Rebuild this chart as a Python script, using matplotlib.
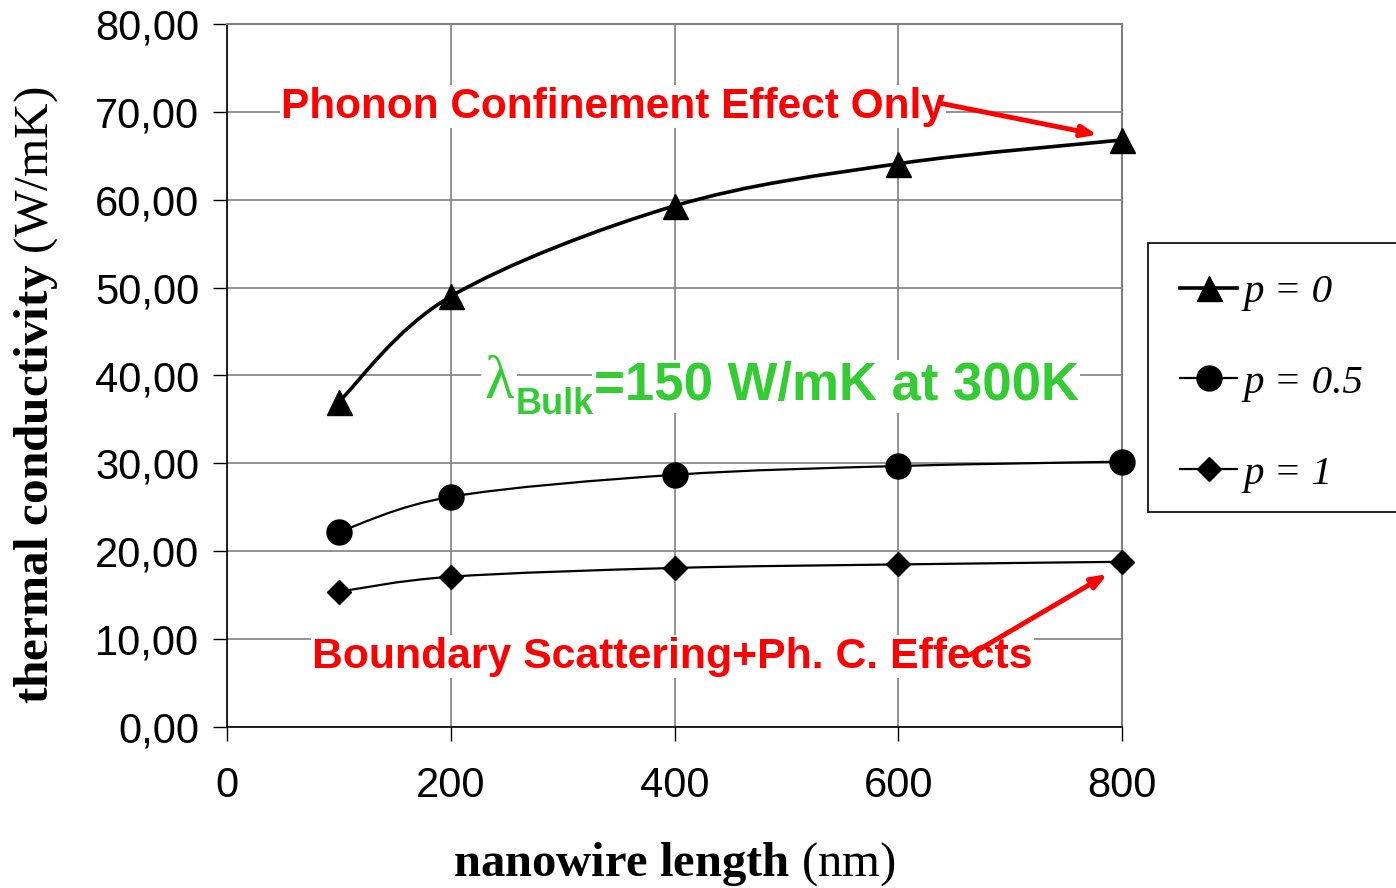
import matplotlib
matplotlib.use("Agg")
import matplotlib.pyplot as plt
from matplotlib.path import Path
from matplotlib.patches import PathPatch, Rectangle
from matplotlib.lines import Line2D
from matplotlib.ticker import FuncFormatter, MultipleLocator

# ---------------- data ----------------
lengths = [100, 200, 400, 600, 800]
k_p0 = [37.0, 49.0, 59.3, 64.1, 66.8]
k_p05 = [22.2, 26.2, 28.7, 29.7, 30.2]
k_p1 = [15.4, 17.1, 18.1, 18.5, 18.8]
series_labels = ["p = 0", "p = 0.5", "p = 1"]
xticks = [0, 200, 400, 600, 800]

plt.rcParams['mathtext.fontset'] = 'custom'
plt.rcParams['mathtext.rm'] = 'Liberation Serif'
plt.rcParams['mathtext.bf'] = 'Liberation Serif:bold'
plt.rcParams['mathtext.it'] = 'Liberation Serif:italic'

fig = plt.figure(figsize=(13.96, 8.88), dpi=100)
ax = fig.add_axes([227/1396, 1-727/888, 895/1396, 703/888])

ax.set_xlim(0, 800)
ax.set_ylim(0, 80)
ax.set_xticks(xticks)
ax.yaxis.set_major_locator(MultipleLocator(10))
ax.yaxis.set_major_formatter(FuncFormatter(lambda v, p: f"{v:.2f}".replace('.', ',')))
ax.xaxis.set_major_formatter(FuncFormatter(lambda v, p: f"{int(v)}"))

for lab in ax.get_xticklabels() + ax.get_yticklabels():
    lab.set_fontfamily('Liberation Sans')
    lab.set_fontsize(30)
ax.tick_params(axis='both', direction='out', length=10, width=1.0, colors='black')
ax.tick_params(axis='x', pad=18)
ax.tick_params(axis='y', pad=10)

ax.grid(True, color='#808080', linewidth=1.2, zorder=0)
ax.set_axisbelow(True)
for s in ['top', 'right']:
    ax.spines[s].set_color('#808080')
    ax.spines[s].set_linewidth(1.5)
for s in ['left', 'bottom']:
    ax.spines[s].set_color('black')
    ax.spines[s].set_linewidth(1.2)


def smooth_path(xs, ys):
    n = len(xs)
    verts = [(xs[0], ys[0])]
    codes = [Path.MOVETO]
    for i in range(n - 1):
        a = i - 1 if i > 0 else i
        d = i + 2 if i + 2 < n else i + 1
        c1 = (xs[i] + (xs[i + 1] - xs[a]) / 6, ys[i] + (ys[i + 1] - ys[a]) / 6)
        c2 = (xs[i + 1] - (xs[d] - xs[i]) / 6, ys[i + 1] - (ys[d] - ys[i]) / 6)
        verts += [c1, c2, (xs[i + 1], ys[i + 1])]
        codes += [Path.CURVE4] * 3
    return Path(verts, codes)


styles = [(k_p0, '^', 18, 2.6), (k_p05, 'o', 18, 1.6), (k_p1, 'D', 12.5, 1.6)]
handles = []
for (vals, mk, ms, lw), lab in zip(styles, series_labels):
    ax.add_patch(PathPatch(smooth_path(lengths, vals), facecolor='none',
                           edgecolor='black', linewidth=lw, zorder=3))
    ax.plot(lengths, vals, linestyle='none', marker=mk, markersize=ms,
            color='black', zorder=4, clip_on=False)
    handles.append(Line2D([], [], color='black', linewidth=lw, marker=mk, markersize=ms))

# axis labels
ax.set_xlabel(r"$\mathbf{nanowire\ length}$ (nm)", fontfamily='Liberation Serif', fontsize=35)
ax.xaxis.set_label_coords(0.5, -0.195)
ax.xaxis.label.set_va('center')
ax.set_ylabel(r"$\mathbf{thermal\ conductivity}$ (W/mK)", fontfamily='Liberation Serif', fontsize=35.5)
ax.yaxis.set_label_coords(-0.213, 0.472)
ax.yaxis.label.set_va('center')

red = '#ff0000'
green = '#33cc33'
wb = dict(facecolor='white', edgecolor='none', pad=1)

ax.text(345, 70.6, "Phonon Confinement Effect Only", color=red, fontfamily='Liberation Sans',
        fontweight='bold', fontsize=30.5, ha='center', va='center', bbox=wb, zorder=5)
ax.annotate("", xy=(778, 67.4), xytext=(637, 71.0),
            arrowprops=dict(arrowstyle='-|>,head_length=0.9,head_width=0.35', color=red, lw=3.5,
                            shrinkA=0, shrinkB=0), zorder=6)

ax.text(398, 8.0, "Boundary Scattering+Ph. C. Effects", color=red, fontfamily='Liberation Sans',
        fontweight='bold', fontsize=30.8, ha='center', va='center', bbox=wb, zorder=5)
ax.annotate("", xy=(787, 17.4), xytext=(664, 8.2),
            arrowprops=dict(arrowstyle='-|>,head_length=0.9,head_width=0.35', color=red, lw=3.5,
                            shrinkA=0, shrinkB=0), zorder=6)

# lambda_bulk text
t1 = ax.text(230, 37.4, "λ", color=green, fontfamily='Liberation Serif', fontsize=44,
             ha='left', va='baseline', bbox=dict(facecolor='white', edgecolor='none', pad=2), zorder=5)
t2 = ax.annotate("Bulk", xy=(1, 0), xycoords=t1, xytext=(1, -8), textcoords='offset points',
                 color=green, fontfamily='Liberation Sans', fontweight='bold', fontsize=26,
                 ha='left', va='bottom', bbox=dict(facecolor='white', edgecolor='none', pad=1), zorder=5)
t3 = ax.annotate("=150 W/mK at 300K", xy=(1, 0), xycoords=t2, xytext=(0, 8), textcoords='offset points',
                 color=green, fontfamily='Liberation Sans', fontweight='bold', fontsize=38,
                 ha='left', va='bottom', bbox=dict(facecolor='white', edgecolor='none', pad=1), zorder=5)

# legend
fig.add_artist(Rectangle((1148/1396, 1-512/888), 0.3, (512-243)/888, transform=fig.transFigure,
                         facecolor='white', edgecolor='black', linewidth=1.2, zorder=1))
leg = fig.legend(handles, series_labels, loc='center left', bbox_to_anchor=(1180/1396, 1-383/888),
                 frameon=False, borderpad=0, borderaxespad=0, handlelength=1.4, handletextpad=0.15,
                 labelspacing=1.3,
                 prop=dict(family='Liberation Serif', style='italic', size=29.5))
leg.set_zorder(2)

fig.savefig("out.png", dpi=100)
